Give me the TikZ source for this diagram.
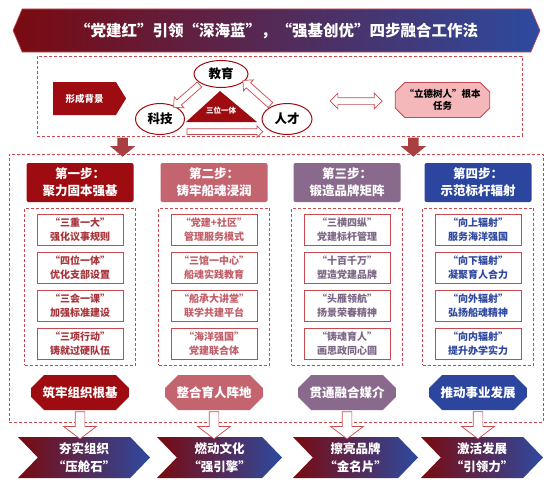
\documentclass[tikz,border=0pt]{standalone}
\usepackage{fontspec}
\setmainfont{Noto Sans CJK SC}
\usetikzlibrary{calc}
\usetikzlibrary{shapes.geometric}
\usetikzlibrary{shapes.arrows}
\usetikzlibrary{shapes.misc}
\usetikzlibrary{shapes.symbols}
\usepackage{xcolor}

\definecolor{deepred}{HTML}{9E0B10}
\definecolor{rosered}{HTML}{C3646F}
\definecolor{mauve}{HTML}{8A6A8C}
\definecolor{navy}{HTML}{2C46A0}
\definecolor{linered}{HTML}{C84A4E}
\definecolor{bannerred}{HTML}{7A0A10}
\definecolor{bannerblue}{HTML}{2D4A9F}
\definecolor{taskpink}{HTML}{F5B8BA}
\definecolor{ink1}{HTML}{A8353B}
\definecolor{ink2}{HTML}{C25E68}
\definecolor{ink3}{HTML}{7C6785}
\definecolor{ink4}{HTML}{2F48A0}

\tikzset{
 dashbox/.style={draw=linered, dash pattern=on 3pt off 2pt, line width=0.7pt, inner sep=0pt},
 banner/.style={signal, signal to=west and east, signal pointer angle=134, left color=bannerred, right color=bannerblue, draw=linered, line width=0.6pt, minimum width=527pt, minimum height=43pt, text=white, font=\bfseries\fontsize{15.5}{18}\selectfont},
 stephead/.style={rounded corners=2pt, minimum width=107pt, minimum height=39pt, text=white, align=center, font=\bfseries\fontsize{12.5}{17}\selectfont},
 itembox/.style={draw=linered, line width=1pt, fill=white, minimum width=86pt, minimum height=31pt, align=center, font=\bfseries\fontsize{10}{14}\selectfont},
 goalbox/.style={chamfered rectangle, chamfered rectangle xsep=10pt, inner xsep=2pt, minimum width=86pt, minimum height=35pt, text=white, font=\bfseries\fontsize{12.5}{15}\selectfont},
 chevron/.style={signal, signal from=west, signal to=east, signal pointer angle=92, left color=bannerred, right color=bannerblue, minimum height=41pt, text=white, align=center, font=\bfseries\fontsize{12.5}{18}\selectfont},
 ring/.style={ellipse, draw=deepred, line width=1pt, fill=white, inner sep=0pt, font=\bfseries\fontsize{12.5}{15}\selectfont},
 thinarrow/.style={single arrow, draw=linered, fill=white, line width=0.7pt, inner sep=3pt, single arrow head extend=4pt},
 tallarrow/.style={single arrow, draw=linered, fill=white, line width=0.7pt, inner sep=4.5pt, single arrow head extend=11.5pt, single arrow tip angle=106},
 blockarrow/.style={single arrow, fill=linered!85!black, inner sep=5pt, single arrow head extend=7.5pt, single arrow tip angle=100},
}

\begin{document}
\begin{tikzpicture}[x=1pt,y=-1pt]
\useasboundingbox (0,0) rectangle (553,487);
\node[banner] (title) at (276.5,30.5) {“党建红”引领“深海蓝”，“强基创优”四步融合工作法};

\node[dashbox, minimum width=485pt, minimum height=80pt] (topbox) at (279.5,96) {};
\node[signal, signal to=east, signal pointer angle=117, fill=deepred, minimum width=73pt, minimum height=33pt, text=white, font=\bfseries\fontsize{9.5}{12}\selectfont] (origin) at (84.5,98.5) {形成背景};
\fill[deepred] (186,122) -- (220,91) -- (257,122) -- cycle;
\node[text=white, font=\bfseries\fontsize{7.5}{9}\selectfont] (trio) at (221,111) {三位一体};
\node[ring, minimum width=54pt, minimum height=27pt] (edu) at (221,74) {教育};
\node[ring, minimum width=49pt, minimum height=31pt] (sci) at (160,119) {科技};
\node[ring, minimum width=50pt, minimum height=31pt] (hum) at (287,119) {人才};
\path let \p1=($(sci.41)-(edu.-155)$), \n1={veclen(\x1,\y1)} in (edu.-155) -- (sci.41) node[midway, sloped, allow upside down, thinarrow, minimum height=\n1] {};
\path let \p1=($(edu.-18)-(hum.140)$), \n1={veclen(\x1,\y1)} in (hum.140) -- (edu.-18) node[midway, sloped, allow upside down, thinarrow, minimum height=\n1] {};
\path let \p1=($(hum.-141)-(sci.-39)$), \n1={veclen(\x1,\y1)} in (sci.-39) -- (hum.-141) node[midway, sloped, allow upside down, thinarrow, inner sep=2.5pt, single arrow head extend=3pt, minimum height=\n1-20pt] {};
\node[double arrow, draw=linered, fill=white, line width=0.7pt, inner sep=3pt, double arrow head extend=4.5pt, minimum height=52pt] (link) at (356,101) {};
\node[chamfered rectangle, chamfered rectangle xsep=6pt, draw=linered, line width=0.8pt, fill=taskpink, minimum width=83pt, minimum height=30pt, align=center, font=\bfseries\fontsize{9.5}{12}\selectfont] (task) at (442.5,100) {“立德树人”根本\\任务};

\node[dashbox, minimum width=534pt, minimum height=268pt] (mainbox) at (276,288) {};
\path ([xshift=86pt]topbox.south west) -- ([xshift=86pt]topbox.south west |- mainbox.north) node[midway, sloped, allow upside down, blockarrow, minimum height=19pt] {};
\path ([xshift=-109pt]topbox.south east) -- ([xshift=-109pt]topbox.south east |- mainbox.north) node[midway, sloped, allow upside down, blockarrow, minimum height=19pt] {};

\foreach \i/\cx/\c/\n/\s/\g in {1/80/deepred/一/聚力固本强基/筑牢组织根基,
  2/214/rosered/二/铸牢船魂浸润/整合育人阵地,
  3/347/mauve/三/锻造品牌矩阵/贯通融合媒介,
  4/478/navy/四/示范标杆辐射/推动事业发展}{
 \node[stephead, fill=\c] (h\i) at (\cx,182.5) {第{\n}步：\\{\s}};
 \node[dashbox, minimum width=111pt, minimum height=157pt] (col\i) at (\cx,286.5) {};
 \node[goalbox, fill=\c] (g\i) at (\cx,392.5) {{\g}};
}

\foreach \i/\j/\a/\b in {1/1/三重一大/强化议事规则, 1/2/四位一体/优化支部设置, 1/3/三会一课/加强标准建设, 1/4/三项行动/铸就过硬队伍,
  2/1/党建+社区/管理服务模式, 2/2/三馆一中心/船魂实践教育, 2/3/船承大讲堂/联学共建平台, 2/4/海洋强国/党建联合体,
  3/1/三横四纵/党建标杆管理, 3/2/十百千万/塑造党建品牌, 3/3/头雁领航/扬景荣春精神, 3/4/铸魂育人/画思政同心圆,
  4/1/向上辐射/服务海洋强国, 4/2/向下辐射/凝聚育人合力, 4/3/向外辐射/弘扬船魂精神, 4/4/向内辐射/提升办学实力}
 \node[itembox, text=ink\i] (i\i\j) at ([yshift={-9.5-38*\j}]h\i) {“{\a}”\\{\b}};

\foreach \k/\cx/\w/\txt in {1/84/132/{夯实组织\\“压舱石”}, 2/219.5/125/{燃动文化\\“强引擎”},
  3/355.5/125/{擦亮品牌\\“金名片”}, 4/482/122/{激活发展\\“引领力”}}{
 \node[chevron, minimum width=\w pt] (c\k) at (\cx,457.5) {\txt};
 \path (g\k.south) -- (g\k.south |- c\k.north) node[midway, sloped, allow upside down, tallarrow, minimum height=27pt] {};
}
\end{tikzpicture}
\end{document}
